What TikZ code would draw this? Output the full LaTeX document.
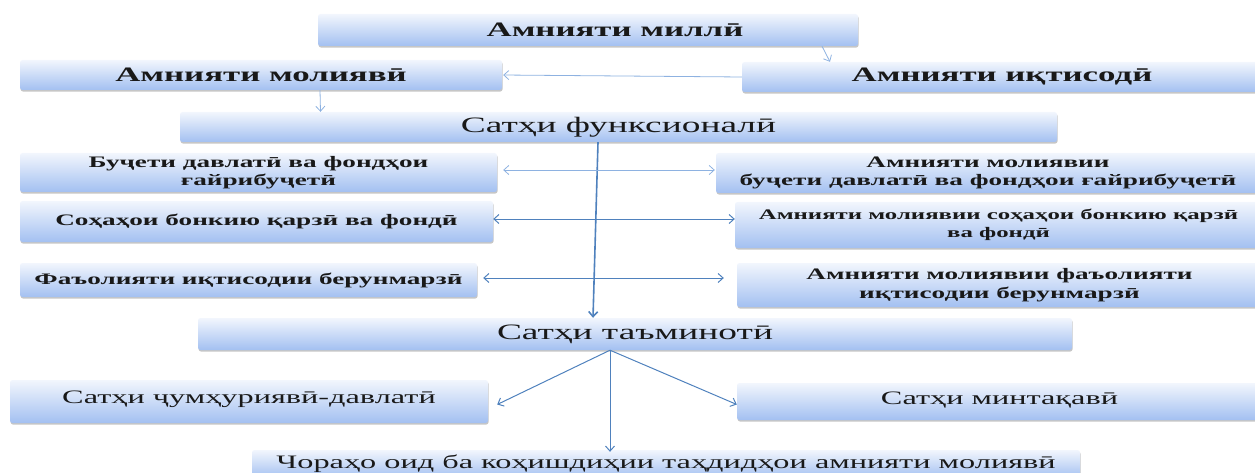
\documentclass[tikz,border=0pt]{standalone}
\usepackage{fontspec}
\usetikzlibrary{arrows.meta,shadows,calc}
\newfontfamily\wf{Liberation Serif}[FakeStretch=1.7]
\definecolor{boxtop}{RGB}{242,246,253}
\definecolor{boxbot}{RGB}{163,192,241}
\definecolor{linkc}{RGB}{79,129,189}
\definecolor{lightlink}{RGB}{142,178,225}
\tikzset{
  box/.style={rounded corners=2.5pt, top color=boxtop, bottom color=boxbot,
    drop shadow={shadow xshift=0.6pt, shadow yshift=-1.6pt, fill=black!50, opacity=0.45},
    inner sep=0pt, align=center, text=black!90},
  fbig/.style={font=\wf\bfseries\fontsize{20.5}{24}\selectfont},
  fmid/.style={font=\wf\bfseries\fontsize{16}{18.5}\selectfont},
  fsml/.style={font=\wf\bfseries\fontsize{14.6}{18.5}\selectfont},
  flev/.style={font=\wf\fontsize{22}{26}\selectfont},
  flow/.style={font=\wf\fontsize{19}{22}\selectfont},
  tip/.style={-{Straight Barb[length=5pt,width=9pt]}},
  both/.style={{Straight Barb[length=5pt,width=9pt]}-{Straight Barb[length=5pt,width=9pt]}},
  conn/.style={draw=linkc, line width=1pt},
  lconn/.style={draw=lightlink, line width=0.8pt},
}
\begin{document}
\begin{tikzpicture}[x=1pt,y=-1pt]
\useasboundingbox (0,0) rectangle (1255,473);
% boxes
\node[box,fbig,minimum width=540pt,minimum height=32pt] (n1) at (588,30) {\hspace*{54pt}Амнияти миллӣ};
\node[box,fbig,minimum width=482pt,minimum height=30pt] (n2) at (261,75) {Амнияти молиявӣ};
\node[box,fbig,minimum width=520pt,minimum height=30pt] (n3) at (1002,77) {Амнияти иқтисодӣ};
\node[box,flev,minimum width=877pt,minimum height=30pt] (n4) at (618.5,127) {Сатҳи функсионалӣ};
\node[box,fmid,minimum width=477pt,minimum height=39pt] (n5) at (258.5,172.5) {Буҷети давлатӣ ва фондҳои\\ғайрибуҷетӣ};
\node[box,fmid,minimum width=544pt,minimum height=40pt] (n6) at (988,173) {Амнияти молиявии\\буҷети давлатӣ ва фондҳои ғайрибуҷетӣ};
\node[box,fmid,minimum width=473pt,minimum height=41pt] (n7) at (256.5,221.5) {Соҳаҳои бонкию қарзӣ ва фондӣ};
\node[box,fsml,minimum width=527pt,minimum height=46pt] (n8) at (998.5,225) {Амнияти молиявии соҳаҳои бонкию қарзӣ\\ва фондӣ};
\node[box,fmid,minimum width=457pt,minimum height=34pt] (n9) at (248.5,280) {Фаъолияти иқтисодии берунмарзӣ};
\node[box,fmid,minimum width=525pt,minimum height=44pt] (n10) at (999.5,285) {Амнияти молиявии фаъолияти\\иқтисодии берунмарзӣ};
\node[box,flev,minimum width=874pt,minimum height=32pt] (n11) at (635,334) {Сатҳи таъминотӣ};
\node[box,flow,minimum width=478pt,minimum height=43pt] (n12) at (249,401.5) {Сатҳи ҷумҳуриявӣ-давлатӣ\rule[-9pt]{0pt}{1pt}};
\node[box,flow,minimum width=525pt,minimum height=37pt] (n13) at (999.5,401.5) {Сатҳи минтақавӣ\rule[-7pt]{0pt}{1pt}};
\node[box,flow,minimum width=828pt,minimum height=28pt] (n14) at (666,464) {Чораҳо оид ба коҳишдиҳии таҳдидҳои амнияти молиявӣ};
% connectors
\draw[lconn,tip] ([xshift=234pt]n1.south) -- ([xshift=-172pt]n3.north);
\draw[lconn,tip,shorten >=1pt] (n3.west) -- (n2.east);
\draw[lconn,tip] ([xshift=59pt]n2.south) -- ([xshift=-298pt]n4.north);
\draw[conn,line width=1.6pt,tip] ([xshift=-20.5pt]n4.south) -- ([xshift=-42pt]n11.north);
\draw[lconn,both,shorten <=6pt,shorten >=1pt] ([yshift=2.5pt]n5.east) -- ([yshift=3pt]n6.west);
\draw[conn,both] ([yshift=2.5pt]n7.east) -- ([yshift=6pt]n8.west);
\draw[conn,both,shorten <=6pt,shorten >=13pt] ([yshift=2pt]n9.east) -- ([yshift=7pt]n10.west);
\draw[conn,tip] ([xshift=-25pt]n11.south) -- ([xshift=9pt,yshift=-3pt]n12.east);
\draw[conn,tip] ([xshift=-25pt]n11.south) -- ([yshift=-3pt]n13.west);
\draw[conn,tip] ([xshift=-25pt]n11.south) -- ([xshift=-56pt,yshift=-2pt]n14.north);
\end{tikzpicture}
\end{document}
